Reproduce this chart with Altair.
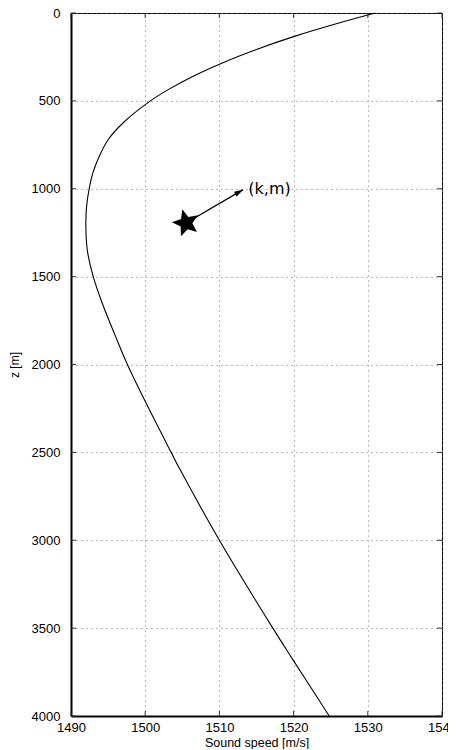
import altair as alt
import pandas as pd

# Sound-speed profile
depth = [0, 57, 133, 209, 284, 361, 436, 500, 626, 721, 816, 910, 1000, 1100,
         1200, 1350, 1500, 1650, 1840, 2000, 2218, 2500, 2598, 3000, 3500, 3679, 4000]
speed = [1531.0, 1526.1, 1520.1, 1514.9, 1510.4, 1506.4, 1503.1, 1500.7, 1497.0,
         1495.0, 1493.8, 1492.95, 1492.45, 1492.1, 1492.0, 1492.2, 1493.0, 1494.2,
         1496.0, 1497.6, 1500.1, 1503.5, 1504.7, 1510.0, 1517.2, 1519.9, 1524.8]

x_ticks = [1490, 1500, 1510, 1520, 1530, 1540]
y_ticks = [0, 500, 1000, 1500, 2000, 2500, 3000, 3500, 4000]

star_speed = [1505.5]
star_depth = [1195]
tip_speed = [1513.2]
tip_depth = [1005]
label_speed = [1513.9]
label_depth = [1000]
label_text = ["(k,m)"]

W, H = 371, 703

profile = pd.DataFrame({"speed": speed, "depth": depth})
star_df = pd.DataFrame({"speed": star_speed, "depth": star_depth})
arrow_df = pd.DataFrame({"speed": star_speed, "depth": star_depth,
                         "speed2": tip_speed, "depth2": tip_depth})
tip_df = pd.DataFrame({"speed": tip_speed, "depth": tip_depth})
label_df = pd.DataFrame({"speed": label_speed, "depth": label_depth, "text": label_text})
xt_df = pd.DataFrame({"speed": x_ticks})
yt_df = pd.DataFrame({"depth": y_ticks})

xscale = alt.Scale(domain=[1490, 1540], nice=False, zero=False)
yscale = alt.Scale(domain=[0, 4000], reverse=True, nice=False, zero=False)

FONT = "Liberation Sans"

# five-pointed star path in unit coordinates
STAR = ("M0,-1L0.265,-0.364L0.951,-0.309L0.428,0.139L0.588,0.809L0,0.45"
        "L-0.588,0.809L-0.428,0.139L-0.951,-0.309L-0.265,-0.364Z")
HEAD = "M0,0L-0.6,2L0.6,2Z"

x_axis = alt.Axis(values=x_ticks, grid=True, gridDash=[1, 4], gridColor="#777",
                  gridWidth=1, tickSize=0, labelPadding=5, domainColor="black",
                  domainWidth=2, labelFont=FONT, labelFontSize=13, labelColor="black",
                  labelFlush=False, labelOverlap=False, format="d",
                  title="Sound speed [m/s]", titleFont=FONT, titleFontSize=12.5,
                  titleFontWeight="normal", titleColor="black", titlePadding=2)
y_axis = alt.Axis(values=y_ticks, grid=True, gridDash=[1, 4], gridColor="#777",
                  gridWidth=1, tickSize=0, labelPadding=11, domainColor="black",
                  domainWidth=2, labelFont=FONT, labelFontSize=13, labelColor="black",
                  labelFlush=False, labelOverlap=False, format="d",
                  title="z [m]", titleFont=FONT, titleFontSize=12,
                  titleFontWeight="normal", titleColor="black",
                  titleX=-50, titleY=H / 2)

line = alt.Chart(profile).mark_line(
    interpolate="catmull-rom", color="black", strokeWidth=1.1
).encode(
    x=alt.X("speed:Q", scale=xscale, axis=x_axis),
    y=alt.Y("depth:Q", scale=yscale, axis=y_axis),
    order="depth:Q",
)

arrow = alt.Chart(arrow_df).mark_rule(color="black", strokeWidth=1.3).encode(
    x="speed:Q", y="depth:Q", x2="speed2:Q", y2="depth2:Q"
)

head = alt.Chart(tip_df).mark_point(
    shape=HEAD, filled=True, color="black", opacity=1,
    size=81, angle=60, strokeWidth=0
).encode(x="speed:Q", y="depth:Q")

star = alt.Chart(star_df).mark_point(
    shape=STAR, filled=True, color="black", opacity=1, size=800, angle=345,
    strokeWidth=0
).encode(x="speed:Q", y="depth:Q")

label = alt.Chart(label_df).mark_text(
    align="left", baseline="middle", font="DejaVu Sans", fontSize=16, color="black"
).encode(x="speed:Q", y="depth:Q", text="text:N")

tick_color = "#333"
left_ticks = alt.Chart(yt_df).mark_rule(color=tick_color, strokeWidth=1).encode(
    y="depth:Q", x=alt.value(0), x2=alt.value(5))
right_ticks = alt.Chart(yt_df).mark_rule(color=tick_color, strokeWidth=1).encode(
    y="depth:Q", x=alt.value(W - 5), x2=alt.value(W))
bottom_ticks = alt.Chart(xt_df).mark_rule(color=tick_color, strokeWidth=1).encode(
    x="speed:Q", y=alt.value(H - 5), y2=alt.value(H))
top_ticks = alt.Chart(xt_df).mark_rule(color=tick_color, strokeWidth=1).encode(
    x="speed:Q", y=alt.value(0), y2=alt.value(5))

chart = alt.layer(
    line, left_ticks, right_ticks, bottom_ticks, top_ticks, arrow, head, star, label
).properties(
    width=W, height=H,
    padding={"left": 63, "top": 5, "right": 6, "bottom": 33},
    autosize=alt.AutoSizeParams(type="none"),
    background="white",
).configure_view(stroke="black", strokeWidth=1)

chart.save("out.html", embed_options={"renderer": "svg", "actions": False})
